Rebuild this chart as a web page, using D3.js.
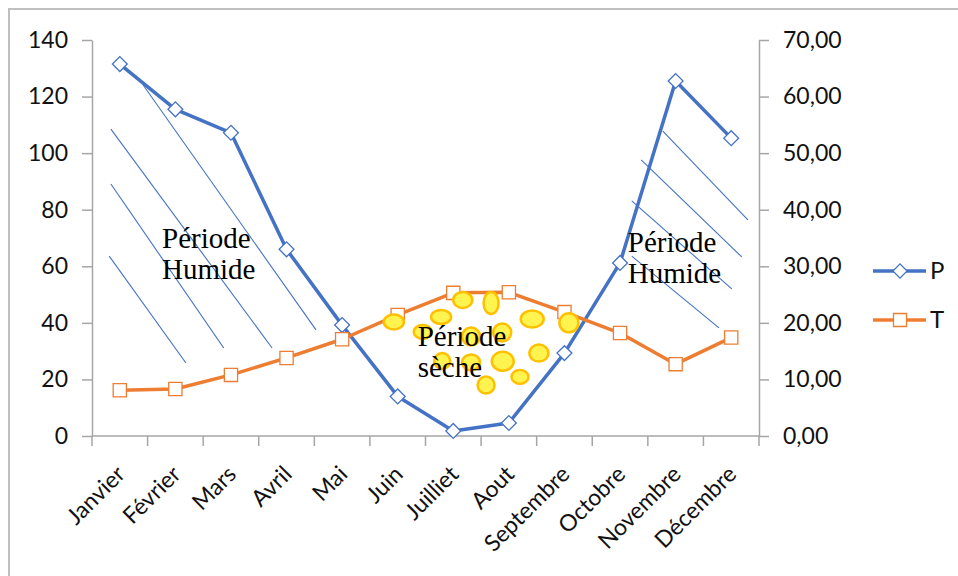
<!DOCTYPE html>
<html>
<head>
<meta charset="utf-8">
<script src="https://cdn.jsdelivr.net/npm/d3@7"></script>
<style>
  body { margin: 0; background: #fff; }
  svg { display: block; }
</style>
</head>
<body>
<svg id="chart" width="958" height="576"></svg>
<script>
// data
var months = ["Janvier","Février","Mars","Avril","Mai","Juin","Juilliet","Aout","Septembre","Octobre","Novembre","Décembre"]
var precip = [131.5, 115.5, 107.2, 66.0, 39.2, 14.0, 1.8, 4.6, 29.3, 61.2, 125.5, 105.3]
var temp = [8.1, 8.3, 10.8, 13.8, 17.1, 21.4, 25.3, 25.4, 21.9, 18.2, 12.7, 17.4]
var leftTicks = [0, 20, 40, 60, 80, 100, 120, 140]
var rightTicks = [0, 10, 20, 30, 40, 50, 60, 70]

// annotations, in (month index, P value)
var hatchLeft = [[-0.19, 63.6, 1.19, 25.8], [-0.16, 89.1, 1.87, 31.1], [-0.16, 108.5, 2.74, 31.1], [0.42, 124.1, 3.53, 37.5]]
var hatchRight = [[9.77, 107.8, 11.30, 76.4], [9.38, 97.6, 11.19, 63.3], [9.21, 83.1, 11.01, 52.0], [9.21, 63.6, 10.78, 38.2]]
var dryDots = [
  [4.93, 40.3, 10, 7.5], [6.17, 48.1, 9.5, 8], [6.68, 47.0, 7.5, 11], [5.78, 42.1, 10, 7],
  [7.42, 41.4, 11.5, 8.5], [8.08, 40.0, 9.5, 9.5], [5.45, 36.8, 9, 7], [6.88, 36.6, 9, 9],
  [6.32, 35.2, 9, 9], [7.54, 29.3, 9.5, 8.5], [6.89, 26.4, 11, 9.5], [6.32, 26.0, 9, 8],
  [5.80, 26.5, 8, 8], [7.20, 20.9, 8.5, 7], [6.59, 18.0, 8.5, 8.5]
]
var notes = [
  {lines: ["Période", "Humide"], i: 0.76, v: 66.5},
  {lines: ["Période", "Humide"], i: 9.14, v: 65.0},
  {lines: ["Période", "sèche"], i: 5.36, v: 31.8}
]

var blue = "#4472C4", orange = "#ED7D31", axisCol = "#a6a6a6"
var svg = d3.select("#chart")
var m = {left: 92, right: 759, top: 40, bottom: 436}

var x = d3.scaleBand().domain(months).range([m.left, m.right])
var yP = d3.scaleLinear().domain([0, 140]).range([m.bottom, m.top])
var yT = d3.scaleLinear().domain([0, 70]).range([m.bottom, m.top])
function xi(i){ return x(months[0]) + x.bandwidth()/2 + i*x.step() }

// outer frame
svg.append("rect").attr("x", 9).attr("y", 9).attr("width", 1000).attr("height", 600)
  .attr("fill", "none").attr("stroke", "#bfbfbf").attr("stroke-width", 2)

var font = "Lato, 'Open Sans', sans-serif"

// left axis
var gl = svg.append("g").attr("transform", "translate(" + m.left + ",0)")
  .call(d3.axisLeft(yP).tickValues(leftTicks).tickSize(10).tickSizeOuter(0).tickPadding(14))
gl.selectAll("line,path").attr("stroke", axisCol).attr("stroke-width", 1.5)
gl.selectAll("text").attr("font-family", font).attr("font-size", 23).attr("fill", "#111")

// right axis
var gr = svg.append("g").attr("transform", "translate(" + m.right + ",0)")
  .call(d3.axisRight(yT).tickValues(rightTicks).tickSize(10).tickSizeOuter(0).tickPadding(14)
    .tickFormat(function(d){ return d.toFixed(2).replace(".", ",") }))
gr.selectAll("line,path").attr("stroke", axisCol).attr("stroke-width", 1.5)
gr.selectAll("text").attr("font-family", font).attr("font-size", 23).attr("fill", "#111")

// bottom axis
var gb = svg.append("g").attr("transform", "translate(0," + m.bottom + ")")
gb.append("line").attr("x1", m.left).attr("x2", m.right).attr("stroke", axisCol).attr("stroke-width", 1.5)
gb.selectAll(".tk").data(months.concat(["end"])).enter().append("line")
  .attr("x1", function(d){ return d == "end" ? m.right : x(d) })
  .attr("x2", function(d){ return d == "end" ? m.right : x(d) })
  .attr("y1", 0).attr("y2", 10).attr("stroke", axisCol).attr("stroke-width", 1.5)
gb.selectAll(".lbl").data(months).enter().append("text")
  .attr("transform", function(d){ return "translate(" + (x(d) + x.bandwidth()/2 + 1) + ",34) rotate(-45)" })
  .attr("text-anchor", "end").attr("dy", "0.35em")
  .attr("font-family", font).attr("font-size", 23).attr("fill", "#111")
  .text(function(d){ return d })

// hatching
svg.append("g").selectAll("line").data(hatchLeft.concat(hatchRight)).enter().append("line")
  .attr("x1", function(d){ return xi(d[0]) }).attr("y1", function(d){ return yP(d[1]) })
  .attr("x2", function(d){ return xi(d[2]) }).attr("y2", function(d){ return yP(d[3]) })
  .attr("stroke", blue).attr("stroke-width", 1.1)

// series
function drawSeries(vals, y, col, diamond){
  var line = d3.line().x(function(d, i){ return x(months[i]) + x.bandwidth()/2 }).y(function(d){ return y(d) })
  svg.append("path").datum(vals).attr("d", line).attr("fill", "none")
    .attr("stroke", col).attr("stroke-width", 3.5).attr("stroke-linejoin", "round")
  svg.append("g").selectAll("path").data(vals).enter().append("path")
    .attr("d", d3.symbol().type(d3.symbolSquare).size(diamond ? 110 : 175))
    .attr("transform", function(d, i){
      return "translate(" + (x(months[i]) + x.bandwidth()/2) + "," + y(d) + ")" + (diamond ? " rotate(45)" : "")
    })
    .attr("fill", "#fff").attr("stroke", col).attr("stroke-width", 1.3)
}
drawSeries(precip, yP, blue, true)
drawSeries(temp, yT, orange, false)

// dry period dots
svg.append("g").selectAll("ellipse").data(dryDots).enter().append("ellipse")
  .attr("cx", function(d){ return xi(d[0]) }).attr("cy", function(d){ return yP(d[1]) })
  .attr("rx", function(d){ return d[2] }).attr("ry", function(d){ return d[3] })
  .attr("fill", "#FFF44F").attr("stroke", "#FFC000").attr("stroke-width", 2.5)

// notes
notes.forEach(function(n){
  var t = svg.append("text").attr("x", xi(n.i)).attr("y", yP(n.v))
    .attr("font-family", "'Liberation Serif', 'Times New Roman', serif").attr("font-size", 29).attr("fill", "#000")
  n.lines.forEach(function(s, k){
    t.append("tspan").attr("x", xi(n.i)).attr("dy", k == 0 ? 0 : 31).text(s)
  })
})

// legend
var legend = [{name: "P", col: blue, y: 271}, {name: "T", col: orange, y: 320}]
var lg = svg.append("g")
legend.forEach(function(l){
  lg.append("line").attr("x1", 873).attr("x2", 926).attr("y1", l.y).attr("y2", l.y)
    .attr("stroke", l.col).attr("stroke-width", 3.5)
  lg.append("path").attr("d", d3.symbol().type(d3.symbolSquare).size(l.name == "P" ? 100 : 170))
    .attr("transform", "translate(900," + l.y + ")" + (l.name == "P" ? " rotate(45)" : ""))
    .attr("fill", "#fff").attr("stroke", l.col).attr("stroke-width", 1.3)
  lg.append("text").attr("x", 930).attr("y", l.y).attr("dy", "0.35em")
    .attr("font-family", font).attr("font-size", 24).attr("fill", "#111").text(l.name)
})
</script>
</body>
</html>
